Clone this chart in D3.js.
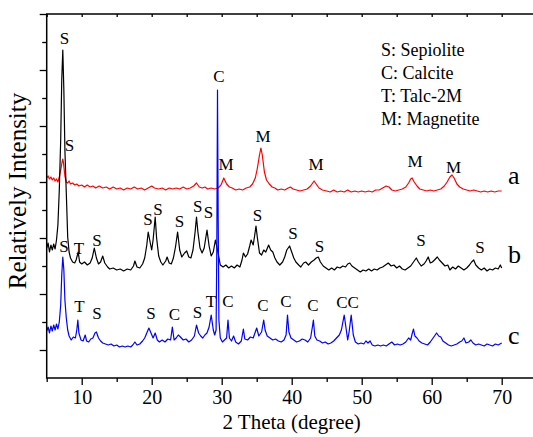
<!DOCTYPE html>
<html>
<head>
<meta charset="utf-8">
<script src="https://cdn.jsdelivr.net/npm/d3@7"></script>
<style>
  body { margin: 0; background: #fff; }
  text { font-family: "Liberation Serif", "DejaVu Serif", serif; fill: #000; }
</style>
</head>
<body>
<div id="graph"></div>
<script>
// 2 theta (degree) vs. relative intensity
var curveA = [[5.0,200],[5.2,202],[5.4,199],[5.6,201],[5.8,198],[6.0,200],[6.2,197],[6.4,199],[6.6,196],[6.8,201],[7.0,208],[7.2,216],[7.3,219],[7.4,215],[7.6,202],[7.8,196],[8.0,195],[8.2,197],[8.4,194],[8.7,195],[9.0,193],[9.3,194],[9.6,192],[10.0,193],[10.4,191],[10.8,193],[11.2,191],[11.6,192],[12.0,190],[12.5,192],[13.0,190],[13.5,191],[14.0,189],[14.5,191],[15.0,189],[15.5,190],[16.0,188],[16.5,190],[17.0,189],[17.5,191],[18.0,189],[18.5,190],[19.0,188],[19.5,190],[20.0,192],[20.4,190],[21.0,189],[21.5,190],[22.0,188],[22.5,190],[23.0,189],[23.5,190],[24.0,189],[24.5,191],[25.0,189],[25.5,190],[26.0,192],[26.4,195],[26.8,191],[27.2,190],[27.6,191],[28.0,189],[28.5,190],[29.0,189],[29.5,190],[29.9,193],[30.3,200],[30.7,194],[31.1,191],[31.5,190],[32.0,188],[32.5,189],[33.0,188],[33.5,190],[34.0,191],[34.4,194],[34.8,200],[35.1,210],[35.4,223],[35.6,230],[35.8,223],[36.1,206],[36.4,198],[36.8,194],[37.2,191],[37.6,190],[38.0,188],[38.5,189],[39.0,188],[39.5,190],[39.8,191],[40.2,189],[40.7,188],[41.2,187],[41.7,188],[42.2,189],[42.7,192],[43.0,195],[43.2,197],[43.5,194],[43.9,190],[44.4,188],[45.0,187],[45.5,186],[46.0,188],[46.5,186],[47.0,187],[47.5,186],[48.0,188],[48.5,186],[49.0,187],[49.5,186],[50.0,187],[50.5,186],[51.0,187],[51.5,186],[52.0,188],[52.5,188],[53.0,190],[53.5,192],[53.9,191],[54.3,188],[54.8,187],[55.3,188],[55.8,189],[56.3,191],[56.7,195],[57.0,199],[57.2,200],[57.5,196],[57.9,192],[58.3,189],[58.8,188],[59.3,187],[59.8,188],[60.3,187],[60.8,188],[61.3,189],[61.8,192],[62.2,196],[62.6,201],[62.9,203],[63.2,200],[63.6,194],[64.0,191],[64.5,189],[65.0,188],[65.5,187],[66.0,188],[66.5,187],[67.0,186],[67.5,187],[68.0,186],[68.5,187],[69.0,186],[69.5,187],[70.0,187]];

var curveB = [[5.0,130],[5.2,135],[5.4,126],[5.6,133],[5.8,128],[6.0,134],[6.2,129],[6.4,138],[6.6,153],[6.8,188],[7.0,238],[7.15,298],[7.3,328],[7.45,288],[7.6,228],[7.8,185],[8.0,141],[8.2,126],[8.4,120],[8.7,116],[9.0,115],[9.2,118],[9.5,126],[9.7,116],[10.0,114],[10.4,116],[10.8,113],[11.2,115],[11.5,120],[11.8,130],[12.1,120],[12.4,114],[12.7,116],[13.0,122],[13.3,115],[13.7,111],[14.0,109],[14.5,110],[15.0,108],[15.5,109],[16.0,107],[16.5,109],[17.0,108],[17.4,112],[17.6,117],[17.9,111],[18.3,110],[18.7,114],[19.0,120],[19.3,133],[19.5,146],[19.8,135],[20.0,128],[20.2,138],[20.5,161],[20.7,140],[21.0,122],[21.3,116],[21.6,113],[22.0,117],[22.2,121],[22.5,115],[22.8,114],[23.1,120],[23.4,131],[23.7,146],[24.0,128],[24.3,121],[24.7,125],[25.0,127],[25.3,121],[25.6,120],[25.9,128],[26.2,146],[26.4,161],[26.6,146],[26.9,130],[27.2,125],[27.5,130],[27.9,148],[28.2,132],[28.5,122],[28.8,126],[29.1,138],[29.4,128],[29.8,113],[30.2,111],[30.6,113],[31.0,110],[31.4,112],[31.8,110],[32.2,113],[32.6,111],[32.9,118],[33.1,125],[33.4,121],[33.7,124],[34.0,132],[34.2,138],[34.5,133],[34.7,142],[34.9,152],[35.1,140],[35.4,125],[35.7,123],[36.0,128],[36.3,126],[36.7,133],[37.0,128],[37.3,126],[37.6,120],[37.9,116],[38.3,113],[38.7,116],[39.0,121],[39.3,128],[39.7,132],[40.0,126],[40.3,120],[40.6,116],[41.0,113],[41.3,111],[41.7,115],[42.0,116],[42.4,113],[42.8,116],[43.2,118],[43.5,120],[43.8,121],[44.1,116],[44.5,112],[44.9,110],[45.3,108],[45.7,110],[46.1,108],[46.5,111],[46.9,110],[47.3,112],[47.7,111],[48.0,114],[48.3,115],[48.6,112],[49.0,110],[49.4,108],[49.8,106],[50.2,108],[50.6,107],[51.0,109],[51.4,107],[51.8,109],[52.2,108],[52.6,110],[53.0,111],[53.4,113],[53.8,115],[54.2,112],[54.6,113],[55.0,110],[55.4,112],[55.8,109],[56.2,108],[56.6,110],[57.0,112],[57.4,116],[57.8,120],[58.1,116],[58.5,112],[58.9,114],[59.2,117],[59.5,121],[59.8,115],[60.1,116],[60.4,118],[60.8,121],[61.1,118],[61.5,115],[61.9,112],[62.3,113],[62.6,108],[63.0,111],[63.4,109],[63.8,112],[64.2,110],[64.6,108],[65.0,110],[65.4,113],[65.7,116],[66.0,118],[66.3,113],[66.7,110],[67.1,108],[67.5,110],[67.9,107],[68.3,109],[68.7,108],[69.1,110],[69.5,109],[69.8,113],[70.0,110]];

var curveC = [[5.0,47],[5.2,51],[5.4,45],[5.6,52],[5.8,47],[6.0,53],[6.2,48],[6.4,54],[6.6,49],[6.8,56],[7.0,73],[7.15,103],[7.3,121],[7.45,108],[7.6,78],[7.8,60],[8.0,48],[8.2,42],[8.5,38],[8.8,41],[9.1,40],[9.3,48],[9.45,58],[9.6,45],[9.9,38],[10.2,37],[10.5,43],[10.7,37],[11.0,36],[11.3,39],[11.6,40],[11.9,45],[12.1,46],[12.4,40],[12.7,37],[13.0,35],[13.4,34],[13.8,33],[14.2,34],[14.6,32],[15.0,33],[15.4,31],[15.8,32],[16.2,31],[16.6,32],[17.0,31],[17.3,33],[17.6,36],[17.9,33],[18.3,34],[18.7,37],[19.0,40],[19.3,45],[19.6,50],[19.9,45],[20.2,40],[20.5,45],[20.8,38],[21.1,36],[21.5,38],[21.9,36],[22.3,39],[22.7,38],[22.95,51],[23.2,38],[23.5,40],[23.8,43],[24.1,41],[24.5,38],[24.9,39],[25.3,36],[25.7,38],[26.1,42],[26.4,53],[26.7,45],[27.0,42],[27.3,40],[27.6,43],[27.9,45],[28.2,51],[28.5,63],[28.8,48],[29.0,43],[29.2,48],[29.3,128],[29.4,288],[29.5,158],[29.6,58],[29.8,40],[30.1,36],[30.4,38],[30.7,40],[30.9,58],[31.1,40],[31.4,37],[31.7,42],[32.0,36],[32.4,34],[32.8,37],[33.1,49],[33.3,39],[33.7,38],[34.1,41],[34.5,40],[34.8,46],[35.0,50],[35.3,42],[35.7,46],[36.0,58],[36.2,48],[36.5,42],[36.9,40],[37.3,38],[37.7,39],[38.1,37],[38.5,36],[38.9,38],[39.2,43],[39.4,63],[39.6,46],[39.9,40],[40.3,38],[40.7,36],[41.1,37],[41.5,39],[41.9,38],[42.3,36],[42.7,40],[43.0,53],[43.1,58],[43.3,42],[43.6,38],[44.0,37],[44.4,35],[44.8,36],[45.2,34],[45.6,35],[46.0,37],[46.4,40],[46.8,43],[47.1,48],[47.5,63],[47.8,48],[48.0,38],[48.2,46],[48.5,63],[48.8,43],[49.1,36],[49.5,34],[49.9,35],[50.3,34],[50.6,37],[50.9,35],[51.2,37],[51.5,33],[51.9,32],[52.3,33],[52.7,32],[53.1,33],[53.5,32],[53.9,34],[54.3,36],[54.7,33],[55.1,34],[55.5,33],[55.9,34],[56.3,36],[56.7,40],[57.0,38],[57.2,44],[57.4,49],[57.6,42],[57.9,40],[58.2,37],[58.6,35],[59.0,34],[59.4,33],[59.8,36],[60.2,40],[60.5,43],[60.7,45],[61.0,42],[61.3,41],[61.6,37],[62.0,35],[62.4,33],[62.8,32],[63.2,33],[63.6,34],[64.0,36],[64.3,37],[64.6,40],[64.9,35],[65.3,36],[65.6,38],[65.9,35],[66.3,33],[66.7,34],[67.1,33],[67.5,32],[67.9,34],[68.3,33],[68.7,32],[69.1,34],[69.5,33],[70.0,35]];

// phase marks above the peaks: [label, 2theta, intensity]
var peakLabels = [
  ["S", 7.54, 334], ["S", 8.26, 227], ["C", 29.61, 296],
  ["M", 30.61, 208], ["M", 35.9, 236], ["M", 43.47, 208], ["M", 57.61, 211], ["M", 63.14, 205],
  ["S", 7.47, 126], ["T", 9.61, 124], ["S", 12.19, 132], ["S", 19.47, 153], ["S", 20.9, 163],
  ["S", 23.97, 151], ["S", 26.57, 166], ["S", 28.11, 160], ["S", 35.11, 157], ["S", 40.19, 139],
  ["S", 43.97, 126], ["S", 58.47, 132], ["S", 66.9, 125],
  ["T", 9.69, 66], ["S", 12.19, 59], ["S", 19.9, 59], ["C", 23.26, 58], ["S", 26.54, 60],
  ["T", 28.47, 71], ["C", 30.9, 71], ["C", 35.9, 67], ["C", 39.19, 71], ["C", 43.04, 67],
  ["CC", 47.97, 70]
];

var seriesNames = ["a", "b", "c"];
var seriesColors = ["#ff0000", "#000000", "#0000ff"];
var seriesNameY = [194, 115, 34];
var legendLines = ["S: Sepiolite", "C: Calcite", "T: Talc-2M", "M: Magnetite"];

var xMajor = [10, 20, 30, 40, 50, 60, 70];
var xMinor = [5, 15, 25, 35, 45, 55, 65, 75];
var yMajor = [28, 84, 140, 196, 252, 308, 364];
var yMinor = [56, 112, 168, 224, 280, 336];

var width = 533, height = 437;
var margin = {left: 46.7, top: 14};
var plotW = 490, plotH = 364;

var svg = d3.select("#graph")
  .append("svg")
  .attr("width", width)
  .attr("height", height);

var g = svg.append("g")
  .attr("transform", "translate(" + margin.left + "," + margin.top + ")");

var x = d3.scaleLinear().domain([5, 75]).range([0, plotW]);
var y = d3.scaleLinear().domain([0, 364]).range([plotH, 0]);

// curves
var line = d3.line()
  .x(function(d) { return x(d[0]); })
  .y(function(d) { return y(d[1]); });

[curveA, curveB, curveC].forEach(function(c, i) {
  g.append("path")
    .datum(c)
    .attr("fill", "none")
    .attr("stroke", seriesColors[i])
    .attr("stroke-width", 1.2)
    .attr("stroke-linejoin", "round")
    .attr("d", line);
});

// axes
function styleAxis(sel) {
  sel.select(".domain").remove();
  sel.selectAll(".tick line").attr("stroke", "#000").attr("stroke-width", 1.3);
  sel.selectAll(".tick text")
    .attr("font-family", "Liberation Serif")
    .attr("font-size", 20)
    .attr("fill", "#000");
}

g.append("g")
  .attr("transform", "translate(0," + plotH + ")")
  .call(d3.axisBottom(x).tickValues(xMajor).tickSize(7).tickPadding(5).tickFormat(d3.format("d")))
  .call(styleAxis);
g.append("g")
  .attr("transform", "translate(0," + plotH + ")")
  .call(d3.axisBottom(x).tickValues(xMinor).tickSize(4).tickFormat(""))
  .call(styleAxis);
g.append("g")
  .call(d3.axisTop(x).tickValues(xMajor.concat(xMinor)).tickSize(-3).tickFormat(""))
  .call(styleAxis);
g.append("g")
  .call(d3.axisLeft(y).tickValues(yMajor).tickSize(7).tickFormat(""))
  .call(styleAxis);
g.append("g")
  .call(d3.axisLeft(y).tickValues(yMinor).tickSize(4.5).tickFormat(""))
  .call(styleAxis);

// frame
g.append("rect")
  .attr("x", 0)
  .attr("y", 0)
  .attr("width", plotW)
  .attr("height", plotH)
  .attr("fill", "none")
  .attr("stroke", "#000")
  .attr("stroke-width", 1.5);

// peak labels
g.selectAll(".peak")
  .data(peakLabels)
  .enter()
  .append("text")
  .attr("class", "peak")
  .attr("x", function(d) { return x(d[1]); })
  .attr("y", function(d) { return y(d[2]); })
  .attr("text-anchor", "middle")
  .attr("font-size", 17)
  .text(function(d) { return d[0]; });

// series names
g.selectAll(".sname")
  .data(seriesNames)
  .enter()
  .append("text")
  .attr("class", "sname")
  .attr("x", x(70.9))
  .attr("y", function(d, i) { return y(seriesNameY[i]); })
  .attr("font-size", 26)
  .text(function(d) { return d; });

// legend
g.selectAll(".legend")
  .data(legendLines)
  .enter()
  .append("text")
  .attr("class", "legend")
  .attr("x", 334.3)
  .attr("y", function(d, i) { return 42 + i * 23; })
  .attr("font-size", 18)
  .text(function(d) { return d; });

// axis titles
svg.append("text")
  .attr("x", margin.left + plotW / 2)
  .attr("y", 429)
  .attr("text-anchor", "middle")
  .attr("font-size", 21)
  .text("2 Theta (degree)");

svg.append("text")
  .attr("transform", "translate(26,191) rotate(-90)")
  .attr("text-anchor", "middle")
  .attr("font-size", 25)
  .text("Relatively Intensity");
</script>
</body>
</html>
